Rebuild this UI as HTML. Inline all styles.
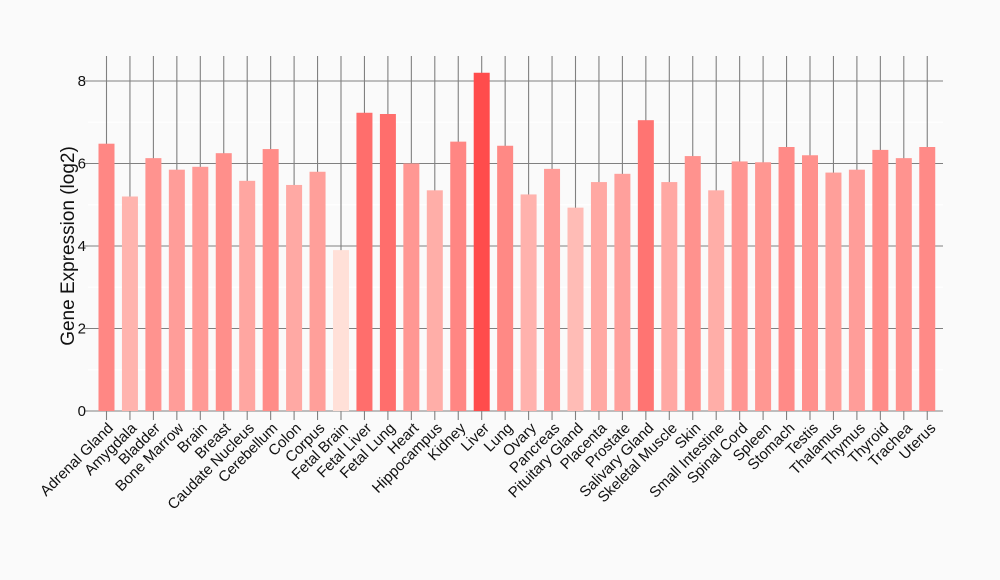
<!DOCTYPE html>
<html><head><meta charset="utf-8"><style>
html,body{margin:0;padding:0;background:#fafafa;}
svg{display:block;font-family:"Liberation Sans",Arial,sans-serif;}
</style></head><body>
<svg width="1000" height="580" viewBox="0 0 1000 580" xmlns="http://www.w3.org/2000/svg">
<rect width="1000" height="580" fill="#fafafa"/>
<g stroke="#ffffff" stroke-width="1">
<line x1="88" x2="943" y1="369.75" y2="369.75"/><line x1="88" x2="943" y1="287.25" y2="287.25"/>
<line x1="88" x2="943" y1="204.75" y2="204.75"/><line x1="88" x2="943" y1="122.25" y2="122.25"/>
</g>
<g stroke="#808080" stroke-width="1.1">
<line x1="88" x2="943" y1="411" y2="411"/><line x1="88" x2="943" y1="328.5" y2="328.5"/>
<line x1="88" x2="943" y1="246" y2="246"/><line x1="88" x2="943" y1="163.5" y2="163.5"/>
<line x1="88" x2="943" y1="81" y2="81"/>
<line x1="84" x2="88" y1="411" y2="411"/><line x1="84" x2="88" y1="328.5" y2="328.5"/>
<line x1="84" x2="88" y1="246" y2="246"/><line x1="84" x2="88" y1="163.5" y2="163.5"/>
<line x1="84" x2="88" y1="81" y2="81"/>
</g>
<g stroke="#808080" stroke-width="1.1">
<path d="M106.5 56V420M129.95 56V420M153.4 56V420M176.85 56V420M200.3 56V420M223.75 56V420M247.2 56V420M270.65 56V420M294.1 56V420M317.55 56V420M341 56V420M364.45 56V420M387.9 56V420M411.35 56V420M434.8 56V420M458.25 56V420M481.7 56V420M505.15 56V420M528.6 56V420M552.05 56V420M575.5 56V420M598.95 56V420M622.4 56V420M645.85 56V420M669.3 56V420M692.75 56V420M716.2 56V420M739.65 56V420M763.1 56V420M786.55 56V420M810 56V420M833.45 56V420M856.9 56V420M880.35 56V420M903.8 56V420M927.25 56V420"/>
</g>
<g transform="translate(0,411) scale(1,-41.25)">
<rect x="98.5" y="0" width="16" height="6.48" fill="rgb(255,135,132)"/>
<rect x="121.95" y="0" width="16" height="5.2" fill="rgb(255,180,174)"/>
<rect x="145.4" y="0" width="16" height="6.13" fill="rgb(255,147,143)"/>
<rect x="168.85" y="0" width="16" height="5.85" fill="rgb(255,157,153)"/>
<rect x="192.3" y="0" width="16" height="5.92" fill="rgb(255,154,150)"/>
<rect x="215.75" y="0" width="16" height="6.25" fill="rgb(255,143,139)"/>
<rect x="239.2" y="0" width="16" height="5.58" fill="rgb(255,166,161)"/>
<rect x="262.65" y="0" width="16" height="6.35" fill="rgb(255,140,136)"/>
<rect x="286.1" y="0" width="16" height="5.48" fill="rgb(255,169,164)"/>
<rect x="309.55" y="0" width="16" height="5.8" fill="rgb(255,159,154)"/>
<rect x="333" y="0" width="16" height="3.9" fill="rgb(255,224,216)"/>
<rect x="356.45" y="0" width="16" height="7.23" fill="rgb(255,110,108)"/>
<rect x="379.9" y="0" width="16" height="7.2" fill="rgb(255,110,108)"/>
<rect x="403.35" y="0" width="16" height="6.0" fill="rgb(255,151,147)"/>
<rect x="426.8" y="0" width="16" height="5.35" fill="rgb(255,174,168)"/>
<rect x="450.25" y="0" width="16" height="6.53" fill="rgb(255,134,131)"/>
<rect x="473.7" y="0" width="16" height="8.2" fill="rgb(255,76,76)"/>
<rect x="497.15" y="0" width="16" height="6.43" fill="rgb(255,137,133)"/>
<rect x="520.6" y="0" width="16" height="5.25" fill="rgb(255,178,173)"/>
<rect x="544.05" y="0" width="16" height="5.87" fill="rgb(255,156,152)"/>
<rect x="567.5" y="0" width="16" height="4.93" fill="rgb(255,188,182)"/>
<rect x="590.95" y="0" width="16" height="5.55" fill="rgb(255,168,163)"/>
<rect x="614.4" y="0" width="16" height="5.75" fill="rgb(255,160,156)"/>
<rect x="637.85" y="0" width="16" height="7.05" fill="rgb(255,116,114)"/>
<rect x="661.3" y="0" width="16" height="5.55" fill="rgb(255,168,163)"/>
<rect x="684.75" y="0" width="16" height="6.18" fill="rgb(255,146,142)"/>
<rect x="708.2" y="0" width="16" height="5.35" fill="rgb(255,174,168)"/>
<rect x="731.65" y="0" width="16" height="6.05" fill="rgb(255,150,146)"/>
<rect x="755.1" y="0" width="16" height="6.03" fill="rgb(255,151,146)"/>
<rect x="778.55" y="0" width="16" height="6.4" fill="rgb(255,138,135)"/>
<rect x="802" y="0" width="16" height="6.2" fill="rgb(255,145,141)"/>
<rect x="825.45" y="0" width="16" height="5.78" fill="rgb(255,159,154)"/>
<rect x="848.9" y="0" width="16" height="5.85" fill="rgb(255,157,153)"/>
<rect x="872.35" y="0" width="16" height="6.33" fill="rgb(255,140,136)"/>
<rect x="895.8" y="0" width="16" height="6.13" fill="rgb(255,147,143)"/>
<rect x="919.25" y="0" width="16" height="6.4" fill="rgb(255,138,135)"/>
</g>
<g font-size="15" fill="#111" text-anchor="end">
<text x="86" y="416">0</text><text x="86" y="333.5">2</text><text x="86" y="251">4</text><text x="86" y="168.5">6</text><text x="86" y="86">8</text>
</g>
<text transform="translate(74,246) rotate(-90)" font-size="19" text-anchor="middle" fill="#111">Gene Expression (log2)</text>
<g font-size="15" fill="#111" text-anchor="end">
<text transform="translate(114,429) rotate(-45)">Adrenal Gland</text>
<text transform="translate(137.5,429) rotate(-45)">Amygdala</text>
<text transform="translate(161,429) rotate(-45)">Bladder</text>
<text transform="translate(184.5,429) rotate(-45)">Bone Marrow</text>
<text transform="translate(208,429) rotate(-45)">Brain</text>
<text transform="translate(231.5,429) rotate(-45)">Breast</text>
<text transform="translate(255,429) rotate(-45)">Caudate Nucleus</text>
<text transform="translate(278.5,429) rotate(-45)">Cerebellum</text>
<text transform="translate(302,429) rotate(-45)">Colon</text>
<text transform="translate(325.5,429) rotate(-45)">Corpus</text>
<text transform="translate(349,429) rotate(-45)">Fetal Brain</text>
<text transform="translate(372.5,429) rotate(-45)">Fetal Liver</text>
<text transform="translate(396,429) rotate(-45)">Fetal Lung</text>
<text transform="translate(419.5,429) rotate(-45)">Heart</text>
<text transform="translate(443,429) rotate(-45)">Hippocampus</text>
<text transform="translate(466.5,429) rotate(-45)">Kidney</text>
<text transform="translate(490,429) rotate(-45)">Liver</text>
<text transform="translate(513.5,429) rotate(-45)">Lung</text>
<text transform="translate(537,429) rotate(-45)">Ovary</text>
<text transform="translate(560.5,429) rotate(-45)">Pancreas</text>
<text transform="translate(584,429) rotate(-45)">Pituitary Gland</text>
<text transform="translate(607.5,429) rotate(-45)">Placenta</text>
<text transform="translate(631,429) rotate(-45)">Prostate</text>
<text transform="translate(654.5,429) rotate(-45)">Salivary Gland</text>
<text transform="translate(678,429) rotate(-45)">Skeletal Muscle</text>
<text transform="translate(701.5,429) rotate(-45)">Skin</text>
<text transform="translate(725,429) rotate(-45)">Small Intestine</text>
<text transform="translate(748.5,429) rotate(-45)">Spinal Cord</text>
<text transform="translate(772,429) rotate(-45)">Spleen</text>
<text transform="translate(795.5,429) rotate(-45)">Stomach</text>
<text transform="translate(819,429) rotate(-45)">Testis</text>
<text transform="translate(842.5,429) rotate(-45)">Thalamus</text>
<text transform="translate(866,429) rotate(-45)">Thymus</text>
<text transform="translate(889.5,429) rotate(-45)">Thyroid</text>
<text transform="translate(913,429) rotate(-45)">Trachea</text>
<text transform="translate(936.5,429) rotate(-45)">Uterus</text>
</g>
</svg>
</body></html>
